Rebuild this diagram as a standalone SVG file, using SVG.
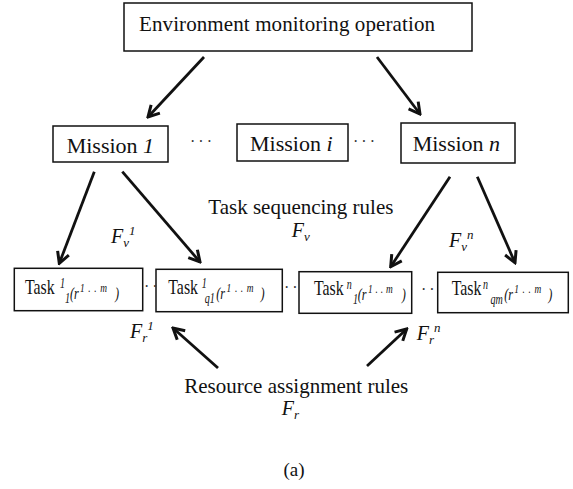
<svg xmlns="http://www.w3.org/2000/svg" width="573" height="489" viewBox="0 0 573 489">
  <defs>
    <marker id="ah" viewBox="-14 -8 16 16" refX="0" refY="0" markerWidth="16" markerHeight="16" markerUnits="userSpaceOnUse" orient="auto">
      <path d="M-11,-6 L0,0 L-11,6" fill="none" stroke="#111" stroke-width="3" stroke-linejoin="miter"/>
    </marker>
  </defs>
  <style>
    .t { font-family: "Liberation Serif", "Times New Roman", serif; fill: #111; }
    .i { font-style: italic; }
    .box { fill: #fff; stroke: #111; stroke-width: 1.5; }
    .arr { fill: none; stroke: #111; stroke-width: 2.8; marker-end: url(#ah); }
    .dots { font-family: "Liberation Serif", serif; font-size: 16px; fill: #333; letter-spacing: 3px; }
    .sup { font-size: 14px; font-style: italic; }
    .sub { font-size: 14px; font-style: italic; }
    .arg { font-size: 17px; font-style: italic; }
    .rng { font-size: 13px; font-style: italic; }
  </style>
  <rect width="573" height="489" fill="#fff"/>

  <!-- top-level operation -->
  <g id="operation">
    <rect class="box" x="124" y="3" width="348" height="48"/>
    <text class="t" x="139" y="31" font-size="21" textLength="296">Environment monitoring operation</text>
  </g>

  <!-- missions -->
  <g id="mission-1">
    <rect class="box" x="53" y="126" width="115" height="36"/>
    <text class="t" x="66.7" y="153" font-size="22">Mission <tspan class="i">1</tspan></text>
  </g>
  <g id="mission-i">
    <rect class="box" x="237" y="124" width="111" height="37"/>
    <text class="t" x="250" y="151" font-size="22">Mission <tspan class="i">i</tspan></text>
  </g>
  <g id="mission-n">
    <rect class="box" x="401" y="123" width="114" height="40"/>
    <text class="t" x="412.7" y="151" font-size="22">Mission <tspan class="i">n</tspan></text>
  </g>
  <text class="dots" x="190" y="147">···</text>
  <text class="dots" x="353" y="147">···</text>

  <!-- tasks: labels are set in a horizontally condensed serif -->
  <g id="task-1-1">
    <rect class="box" x="14.3" y="268.3" width="128.4" height="42.4"/>
    <text class="t" font-size="22" transform="translate(25,294) scale(0.72,1)"><tspan x="0" y="0">Task</tspan><tspan class="sup" x="48.6" y="-6">1</tspan><tspan class="sub" x="55.6" y="9">1</tspan><tspan class="arg" x="62.5" y="4.5">(r</tspan><tspan class="rng" x="76.4" y="-2" letter-spacing="5">1..m</tspan><tspan class="arg" x="125" y="4.5">)</tspan></text>
  </g>
  <g id="task-1-q1">
    <rect class="box" x="156" y="269.3" width="126.3" height="42.4"/>
    <text class="t" font-size="22" transform="translate(168.3,294) scale(0.72,1)"><tspan x="0" y="0">Task</tspan><tspan class="sup" x="46.4" y="-6">1</tspan><tspan class="sub" x="50.5" y="9">q1</tspan><tspan class="arg" x="66.5" y="4.5">(r</tspan><tspan class="rng" x="81" y="-2" letter-spacing="5">1..m</tspan><tspan class="arg" x="128" y="4.5">)</tspan></text>
  </g>
  <g id="task-n-1">
    <rect class="box" x="299" y="271.7" width="112.7" height="41.6"/>
    <text class="t" font-size="22" transform="translate(314,295) scale(0.72,1)"><tspan x="0" y="0">Task</tspan><tspan class="sup" x="45.4" y="-6">n</tspan><tspan class="sub" x="54" y="9">1</tspan><tspan class="arg" x="60.7" y="4.5">(r</tspan><tspan class="rng" x="75" y="-2" letter-spacing="4">1..m</tspan><tspan class="arg" x="121.8" y="4.5">)</tspan></text>
  </g>
  <g id="task-n-qm">
    <rect class="box" x="437.7" y="272.3" width="130.6" height="40.4"/>
    <text class="t" font-size="22" transform="translate(451.7,295) scale(0.72,1)"><tspan x="0" y="0">Task</tspan><tspan class="sup" x="43.5" y="-6">n</tspan><tspan class="sub" x="54" y="9">qm</tspan><tspan class="arg" x="73" y="4.5">(r</tspan><tspan class="rng" x="87" y="-2" letter-spacing="5">1..m</tspan><tspan class="arg" x="134" y="4.5">)</tspan></text>
  </g>
  <text class="dots" x="144" y="292">··</text>
  <text class="dots" x="284" y="293">··</text>
  <text class="dots" x="421" y="295">··</text>

  <!-- connectors -->
  <g id="connectors">
    <line class="arr" x1="204" y1="57" x2="148" y2="117"/>
    <line class="arr" x1="377" y1="57" x2="420" y2="114"/>
    <line class="arr" x1="94.3" y1="171.7" x2="59.3" y2="263.3"/>
    <line class="arr" x1="122.3" y1="171.7" x2="200" y2="262"/>
    <line class="arr" x1="450" y1="176.7" x2="390.7" y2="266.7"/>
    <line class="arr" x1="477.3" y1="176.7" x2="515" y2="262.7"/>
    <line class="arr" x1="218" y1="368" x2="173" y2="328"/>
    <line class="arr" x1="367" y1="366" x2="406.7" y2="329"/>
  </g>

  <!-- rule labels -->
  <g id="sequencing-rules">
    <text class="t" x="208.3" y="214" font-size="21">Task sequencing rules</text>
    <text class="t i" x="291.7" y="236.7" font-size="20">F<tspan font-size="13" dy="4">v</tspan></text>
    <text class="t i" x="111" y="243" font-size="20">F<tspan font-size="13" dy="4">v</tspan><tspan font-size="13" dy="-12">1</tspan></text>
    <text class="t i" x="449" y="246.7" font-size="20">F<tspan font-size="13" dy="4">v</tspan><tspan font-size="13" dy="-12">n</tspan></text>
  </g>
  <g id="assignment-rules">
    <text class="t" x="184.3" y="392.7" font-size="21">Resource assignment rules</text>
    <text class="t i" x="281.7" y="415" font-size="20">F<tspan font-size="13" dy="4">r</tspan></text>
    <text class="t i" x="130" y="338.3" font-size="20">F<tspan font-size="13" dy="4">r</tspan><tspan font-size="13" dy="-12">1</tspan></text>
    <text class="t i" x="416.7" y="340" font-size="20">F<tspan font-size="13" dy="4">r</tspan><tspan font-size="13" dy="-12">n</tspan></text>
  </g>

  <text class="t" x="294" y="476" font-size="19" text-anchor="middle">(a)</text>
</svg>
